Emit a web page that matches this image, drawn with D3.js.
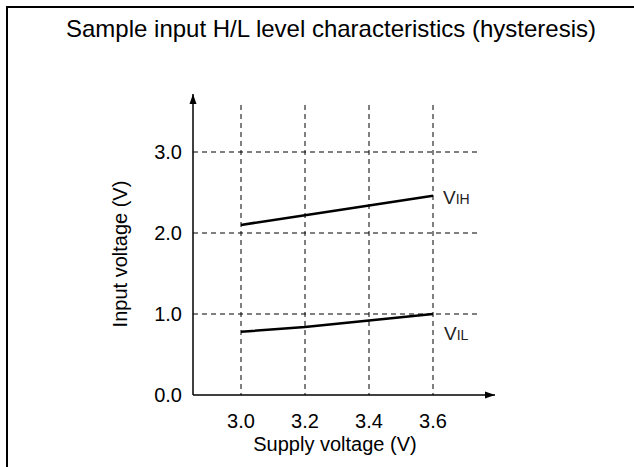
<!DOCTYPE html>
<html><head><meta charset="utf-8">
<script src="https://cdn.jsdelivr.net/npm/d3@7"></script>
<style>body{margin:0;background:#fff}svg{display:block}text{font-family:"Liberation Sans",Arial,sans-serif;fill:#000}</style>
</head><body><svg id="c" width="634" height="467"></svg>
<script>
const title = "Sample input H/L level characteristics (hysteresis)";
const xTitle = "Supply voltage (V)";
const yTitle = "Input voltage (V)";
const xTicks = [3.0, 3.2, 3.4, 3.6];
const yTicks = [0.0, 1.0, 2.0, 3.0];
const supplyV = [3.0, 3.2, 3.4, 3.6];
const vih = [2.10, 2.22, 2.34, 2.46];
const vil = [0.78, 0.84, 0.92, 1.00];

const svg = d3.select("#c");
const x = d3.scaleLinear().domain([2.85, 3.6]).range([193, 433]);
const y = d3.scaleLinear().domain([0, 3]).range([395, 152]);

// frame
svg.append("rect").attr("x", 7).attr("y", 7).attr("width", 700).attr("height", 600)
  .attr("fill", "none").attr("stroke", "#000").attr("stroke-width", 2);

svg.append("text").attr("x", 331).attr("y", 37).attr("text-anchor", "middle")
  .style("font-size", "24px").text(title);

// grid
const g = svg.append("g");
g.selectAll(".vg").data(xTicks).join("line")
  .attr("x1", d => x(d)).attr("x2", d => x(d)).attr("y1", 105).attr("y2", 395)
  .attr("stroke", "#000").attr("stroke-width", 1).attr("stroke-dasharray", "5,4");
g.selectAll(".hg").data(yTicks.filter(d => d > 0)).join("line")
  .attr("x1", 193).attr("x2", 477).attr("y1", d => y(d)).attr("y2", d => y(d))
  .attr("stroke", "#000").attr("stroke-width", 1).attr("stroke-dasharray", "5,4");

// axes
svg.append("defs").append("marker").attr("id", "ar").attr("viewBox", "0 0 10 10")
  .attr("refX", 10).attr("refY", 5).attr("markerWidth", 10).attr("markerHeight", 10)
  .attr("markerUnits", "userSpaceOnUse").attr("orient", "auto")
  .append("path").attr("d", "M0,1.5L10,5L0,8.5Z").attr("fill", "#000");
svg.append("line").attr("x1", 193).attr("y1", 395).attr("x2", 495).attr("y2", 395)
  .attr("stroke", "#000").attr("stroke-width", 1.5).attr("marker-end", "url(#ar)");
svg.append("line").attr("x1", 193).attr("y1", 395).attr("x2", 193).attr("y2", 94)
  .attr("stroke", "#000").attr("stroke-width", 1.5).attr("marker-end", "url(#ar)");

// tick labels
svg.selectAll(".xt").data(xTicks).join("text").attr("x", d => x(d)).attr("y", 428)
  .attr("text-anchor", "middle").style("font-size", "20px").text(d => d.toFixed(1));
svg.selectAll(".yt").data(yTicks).join("text").attr("x", 182).attr("y", d => y(d) + 7)
  .attr("text-anchor", "end").style("font-size", "20px").text(d => d.toFixed(1));

svg.append("text").attr("x", 335).attr("y", 451).attr("text-anchor", "middle")
  .style("font-size", "20px").text(xTitle);
svg.append("text").attr("transform", "translate(127,254) rotate(-90)").attr("text-anchor", "middle")
  .style("font-size", "20px").text(yTitle);

// lines
const line = d3.line().x(d => x(d[0])).y(d => y(d[1]));
[vih, vil].forEach(s => {
  svg.append("path").datum(supplyV.map((v, i) => [v, s[i]])).attr("d", line)
    .attr("fill", "none").attr("stroke", "#000").attr("stroke-width", 2.5);
});

function lab(px, py, sub) {
  const t = svg.append("text").attr("x", px).attr("y", py).style("font-size", "19px").style("fill", "#222");
  t.append("tspan").text("V");
  t.append("tspan").style("font-size", "14px").text(sub);
}
lab(443, 204, "IH");
lab(444, 340, "IL");
</script></body></html>
